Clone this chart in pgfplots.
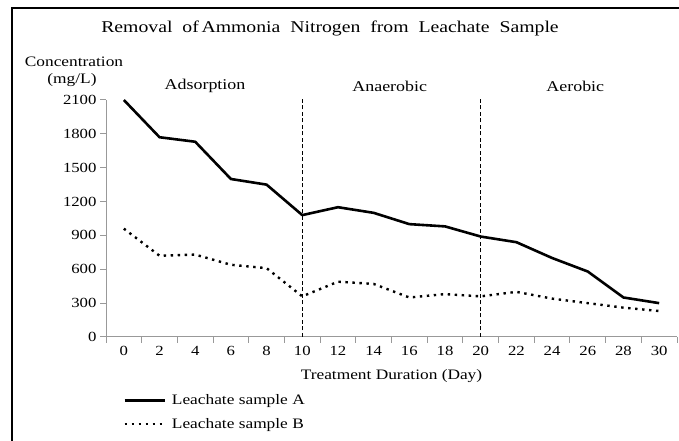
\documentclass[border=0pt]{standalone}
\usepackage{fontspec}
\setmainfont{Liberation Serif}[FakeStretch=1.2]
\usepackage{pgfplots}
\pgfplotsset{compat=1.18}
\begin{document}
\begin{tikzpicture}[x=1bp,y=1bp]
\useasboundingbox (0,0) rectangle (679,441);
\fill[white] (0,0) rectangle (679,441);
\draw[line width=2bp] (12,0) -- (12,433) -- (679,433);
\node[font=\fontsize{16.5}{18}\selectfont] at (330,413) {Removal\ \ of\,Ammonia\ \ Nitrogen\ \ from\ \ Leachate\ \ Sample};
\node[font=\fontsize{14.5}{15}\selectfont] at (74,379) {Concentration};
\node[font=\fontsize{14.5}{15}\selectfont] at (72,361) {(mg/L)};
\begin{axis}[
  at={(106bp,104bp)}, anchor=south west,
  scale only axis, width=571bp, height=237bp,
  xmin=-1, xmax=31, ymin=0, ymax=2100,
  clip=false,
  axis x line*=bottom, axis y line*=left,
  axis line style={draw=gray!80, line width=1bp, -},
  xtick={0,2,...,30},
  minor xtick={-1,1,...,31},
  ytick={0,300,...,2100},
  tick align=outside,
  major tick length=6bp,
  minor tick length=6bp,
  x tick style={draw=none},
  minor x tick style={draw=gray!80, line width=1bp},
  y tick style={draw=gray!80, line width=1bp},
  tick label style={font=\fontsize{14}{15}\selectfont},
  /pgf/number format/assume math mode=true,
  /pgf/number format/1000 sep={},
  xlabel={Treatment Duration (Day)},
  xlabel style={font=\fontsize{14.5}{15}\selectfont, yshift=-7bp},
  legend style={at={(0.03,-0.235)}, anchor=north west, draw=none, fill=none,
     font=\fontsize{14.5}{15}\selectfont, row sep=8bp, column sep=4bp, inner sep=0pt},
  legend cell align=left,
  legend image code/.code={\draw[#1] (0bp,0bp) -- (40bp,0bp);},
]
\addplot[black, line width=2.6bp, line join=round] coordinates {
(0,2100) (2,1770) (4,1730) (6,1400) (8,1350) (10,1080) (12,1150) (14,1100)
(16,1000) (18,980) (20,890) (22,840) (24,700) (26,580) (28,350) (30,300)};
\addlegendentry{Leachate sample A}
\addplot[black, line width=2.4bp, dash pattern=on 2.4bp off 4.6bp] coordinates {
(0,960) (2,720) (4,730) (6,640) (8,610) (10,360) (12,490) (14,470)
(16,350) (18,380) (20,360) (22,400) (24,340) (26,300) (28,260) (30,230)};
\addlegendentry{Leachate sample B}
\addplot[black, line width=1.1bp, dash pattern=on 4bp off 2.5bp, forget plot] coordinates {(10,0) (10,2127)};
\addplot[black, line width=1.1bp, dash pattern=on 4bp off 2.5bp, forget plot] coordinates {(20,0) (20,2127)};
\node[font=\fontsize{15}{16}\selectfont] at (axis cs:4.55,2223) {Adsorption};
\node[font=\fontsize{15}{16}\selectfont] at (axis cs:14.9,2223) {Anaerobic};
\node[font=\fontsize{15}{16}\selectfont] at (axis cs:25.3,2223) {Aerobic};
\end{axis}
\end{tikzpicture}
\end{document}
